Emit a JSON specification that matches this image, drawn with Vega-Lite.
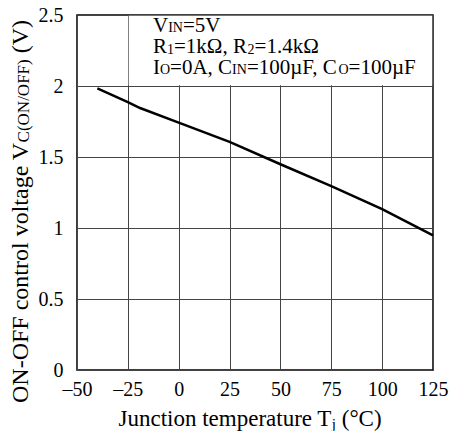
{
  "$schema": "https://vega.github.io/schema/vega-lite/v6.json",
  "width": 356,
  "height": 355,
  "autosize": "none",
  "padding": {"left": 77, "top": 15, "right": 16, "bottom": 61},
  "background": "white",
  "config": {
    "font": "Liberation Serif",
    "view": {"stroke": "black", "strokeWidth": 1.5},
    "axis": {
      "labelFont": "Liberation Serif",
      "labelFontSize": 20,
      "labelColor": "black",
      "ticks": false,
      "domain": false,
      "grid": true,
      "gridColor": "#444",
      "gridWidth": 1,
      "gridOpacity": 1,
      "labelFlush": false,
      "labelOverlap": false,
      "title": null
    }
  },
  "datasets": {
    "curve": [
      {"t": -40, "v": 1.983},
      {"t": -25, "v": 1.887},
      {"t": -19, "v": 1.845},
      {"t": 0, "v": 1.742},
      {"t": 25, "v": 1.606},
      {"t": 50, "v": 1.449},
      {"t": 75, "v": 1.295},
      {"t": 100, "v": 1.133},
      {"t": 125, "v": 0.948}
    ],
    "noteBig": [
      {"label": "V", "t": -12.64, "v": 2.38},
      {"label": "=5V", "t": 2.07, "v": 2.38},
      {"label": "R", "t": -12.64, "v": 2.232},
      {"label": "=1kΩ, R", "t": -2.31, "v": 2.232},
      {"label": "=1.4kΩ", "t": 37.27, "v": 2.232},
      {"label": "I", "t": -12.64, "v": 2.084},
      {"label": "=0A, C", "t": -4.23, "v": 2.084},
      {"label": "=100µF, C", "t": 33.51, "v": 2.084},
      {"label": "=100µF", "t": 83.52, "v": 2.084}
    ],
    "noteSmall": [
      {"label": "IN", "t": -5.19, "v": 2.38},
      {"label": "1", "t": -5.75, "v": 2.225},
      {"label": "2", "t": 33.83, "v": 2.225},
      {"label": "O", "t": -9.2, "v": 2.084},
      {"label": "IN", "t": 26.25, "v": 2.084},
      {"label": "O", "t": 78.55, "v": 2.084}
    ],
    "yTitleBig": [
      {"label": "ON-OFF control voltage V", "t": -74.09, "v": -0.2324},
      {"label": "(V)", "t": -74.09, "v": 2.23}
    ],
    "yTitleSmall": [
      {"label": "C(ON/OFF)", "t": -73.6, "v": 1.6028}
    ],
    "xTitleBig": [
      {"label": "Junction temperature T", "t": -29.6, "v": -0.394},
      {"label": "(°C)", "t": 80.14, "v": -0.394}
    ],
    "xTitleSmall": [
      {"label": "j", "t": 75.25, "v": -0.4155}
    ]
  },
  "layer": [
    {
      "data": {"values": [{}]},
      "mark": {"type": "rect", "fill": "white", "stroke": null},
      "encoding": {
        "x": {
          "datum": -24.6,
          "type": "quantitative",
          "scale": {"domain": [-50, 125], "nice": false, "zero": false},
          "axis": {
            "values": [-50, -25, 0, 25, 50, 75, 100, 125],
            "format": "d",
            "labelPadding": 9,
            "labelExpr": "replace(datum.label, '−', '–')"
          }
        },
        "x2": {"datum": 124.6},
        "y": {
          "datum": 2.005,
          "type": "quantitative",
          "scale": {"domain": [0, 2.5], "nice": false, "zero": false},
          "axis": {
            "values": [0, 0.5, 1, 1.5, 2, 2.5],
            "format": "~g",
            "labelPadding": 14
          }
        },
        "y2": {"datum": 2.495}
      }
    },
    {
      "data": {"name": "curve"},
      "mark": {"type": "line", "color": "black", "strokeWidth": 2.5},
      "encoding": {
        "x": {"field": "t", "type": "quantitative"},
        "y": {"field": "v", "type": "quantitative"}
      }
    },
    {
      "data": {"name": "noteBig"},
      "mark": {"type": "text", "align": "left", "baseline": "alphabetic", "fontSize": 21, "font": "Liberation Serif", "color": "black"},
      "encoding": {
        "x": {"field": "t", "type": "quantitative"},
        "y": {"field": "v", "type": "quantitative"},
        "text": {"field": "label"}
      }
    },
    {
      "data": {"name": "noteSmall"},
      "mark": {"type": "text", "align": "left", "baseline": "alphabetic", "fontSize": 14, "font": "Liberation Serif", "color": "black"},
      "encoding": {
        "x": {"field": "t", "type": "quantitative"},
        "y": {"field": "v", "type": "quantitative"},
        "text": {"field": "label"}
      }
    },
    {
      "data": {"name": "yTitleBig"},
      "mark": {"type": "text", "align": "left", "baseline": "alphabetic", "angle": 270, "fontSize": 24, "font": "Liberation Serif", "color": "black"},
      "encoding": {
        "x": {"field": "t", "type": "quantitative"},
        "y": {"field": "v", "type": "quantitative"},
        "text": {"field": "label"}
      }
    },
    {
      "data": {"name": "yTitleSmall"},
      "mark": {"type": "text", "align": "left", "baseline": "alphabetic", "angle": 270, "fontSize": 17, "font": "Liberation Serif", "color": "black"},
      "encoding": {
        "x": {"field": "t", "type": "quantitative"},
        "y": {"field": "v", "type": "quantitative"},
        "text": {"field": "label"}
      }
    },
    {
      "data": {"name": "xTitleBig"},
      "mark": {"type": "text", "align": "left", "baseline": "alphabetic", "fontSize": 23, "font": "Liberation Serif", "color": "black"},
      "encoding": {
        "x": {"field": "t", "type": "quantitative"},
        "y": {"field": "v", "type": "quantitative"},
        "text": {"field": "label"}
      }
    },
    {
      "data": {"name": "xTitleSmall"},
      "mark": {"type": "text", "align": "left", "baseline": "alphabetic", "fontSize": 15, "font": "Liberation Serif", "color": "black"},
      "encoding": {
        "x": {"field": "t", "type": "quantitative"},
        "y": {"field": "v", "type": "quantitative"},
        "text": {"field": "label"}
      }
    }
  ]
}
